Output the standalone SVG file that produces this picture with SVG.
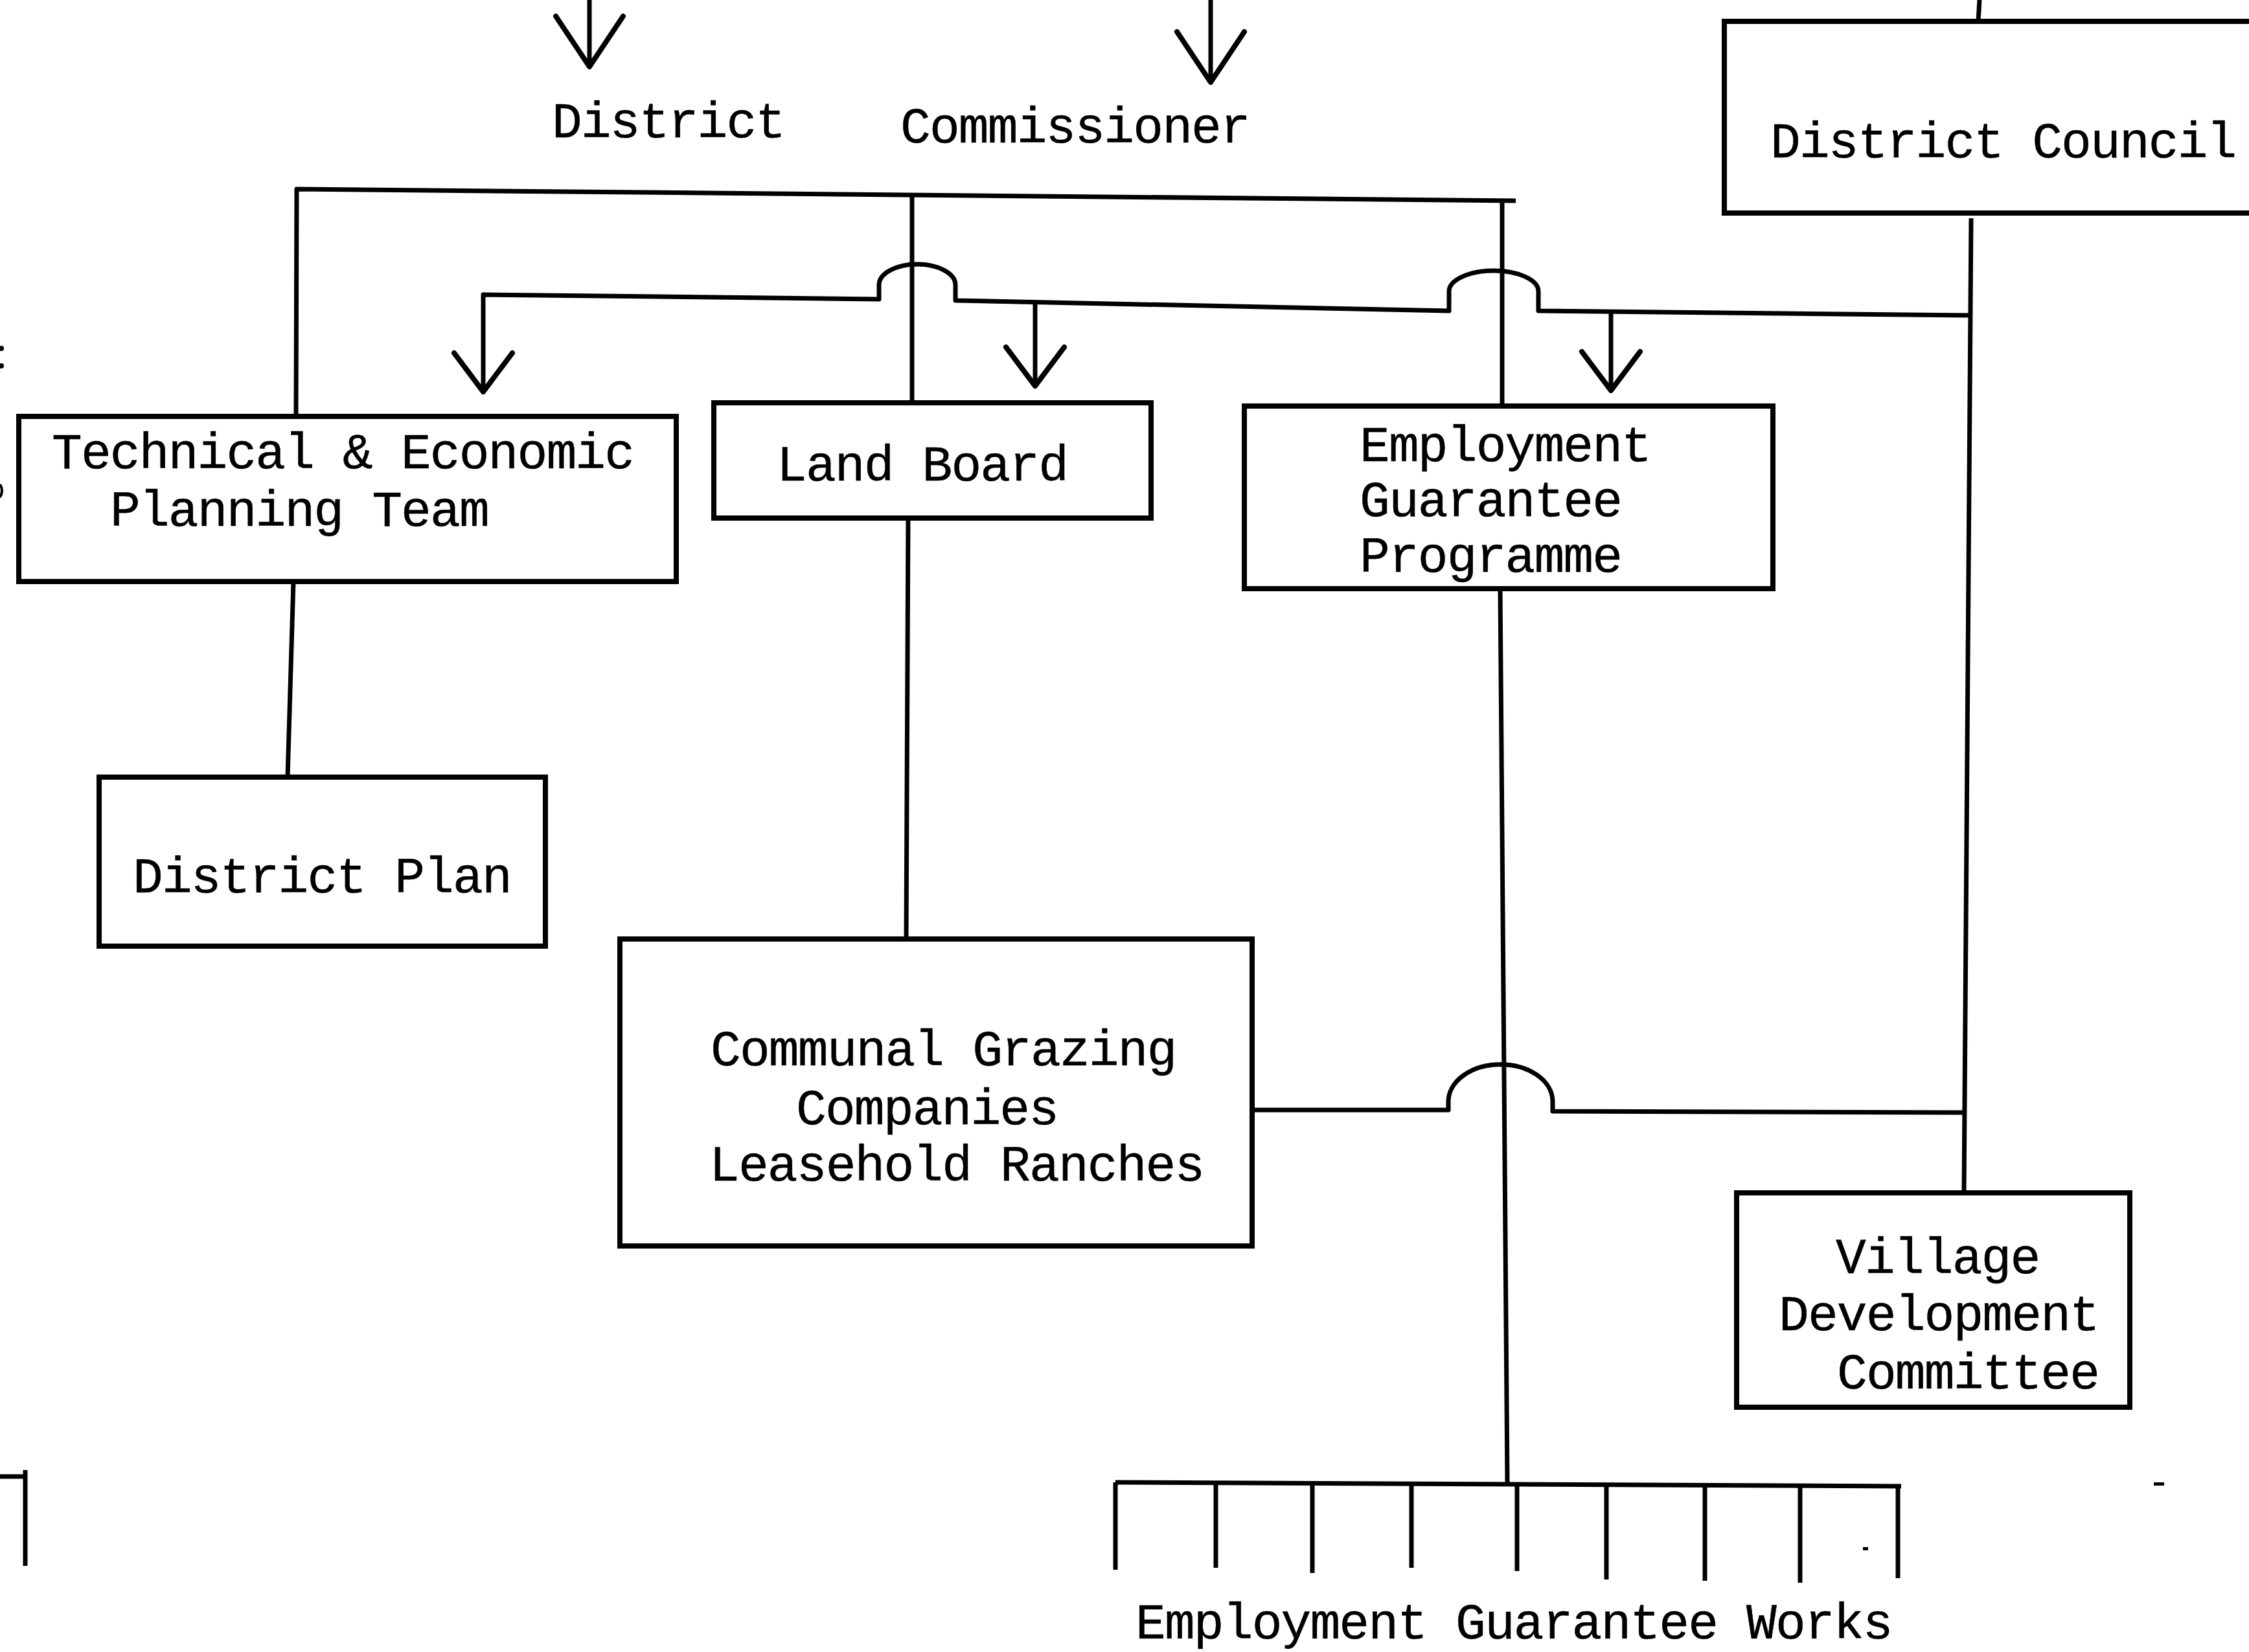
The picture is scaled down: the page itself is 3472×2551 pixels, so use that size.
<svg xmlns="http://www.w3.org/2000/svg" width="3472" height="2551" viewBox="0 0 3472 2551">
<style>
  .box { fill: none; stroke: #000; stroke-width: 8; }
  .conn { fill: none; stroke: #000; stroke-width: 7; stroke-linejoin: round; }
  .lbl { font-family: "Liberation Mono", "Courier New", monospace; font-size: 78px; letter-spacing: -1.9px; fill: #000; stroke: #000; stroke-width: 0.5px; }
  .mark { fill: #000; stroke: none; }
</style>
<defs>
  <marker id="headL" markerUnits="userSpaceOnUse" orient="auto" overflow="visible" markerWidth="1" markerHeight="1" refX="0" refY="0">
    <path d="M -78 -52 L 0 0 L -78 52" fill="none" stroke="#000" stroke-width="8" stroke-linejoin="round" stroke-linecap="round"/>
  </marker>
  <marker id="headS" markerUnits="userSpaceOnUse" orient="auto" overflow="visible" markerWidth="1" markerHeight="1" refX="0" refY="0">
    <path d="M -60 -45 L 0 0 L -60 45" fill="none" stroke="#000" stroke-width="8" stroke-linejoin="round" stroke-linecap="round"/>
  </marker>
</defs>
<rect width="3472" height="2551" fill="#fff"/>

<g id="district-commissioner">
  <text class="lbl" x="852" y="212">District</text>
  <text class="lbl" x="1390" y="220">Commissioner</text>
</g>

<g id="district-council">
  <rect class="box" x="2662" y="33" width="900" height="296"/>
  <text class="lbl" x="2733" y="243">District Council</text>
</g>

<g id="technical-economic-planning-team">
  <rect class="box" x="29" y="643" width="1015" height="255"/>
  <text class="lbl" x="80" y="723">Technical &amp; Economic</text>
  <text class="lbl" x="170" y="812">Planning Team</text>
</g>

<g id="land-board">
  <rect class="box" x="1102" y="622" width="675" height="178"/>
  <text class="lbl" x="1199" y="742">Land Board</text>
</g>

<g id="employment-guarantee-programme">
  <rect class="box" x="1921" y="627" width="816" height="282"/>
  <text class="lbl" x="2099" y="712">Employment</text>
  <text class="lbl" x="2099" y="797">Guarantee</text>
  <text class="lbl" x="2099" y="883">Programme</text>
</g>

<g id="district-plan">
  <rect class="box" x="153" y="1200" width="689" height="261"/>
  <text class="lbl" x="205" y="1378">District Plan</text>
</g>

<g id="communal-grazing">
  <rect class="box" x="957" y="1450" width="976" height="474"/>
  <text class="lbl" x="1097" y="1645">Communal Grazing</text>
  <text class="lbl" x="1229" y="1736">Companies</text>
  <text class="lbl" x="1095" y="1823">Leasehold Ranches</text>
</g>

<g id="village-development-committee">
  <rect class="box" x="2681" y="1842" width="607" height="331"/>
  <text class="lbl" x="2834" y="1966">Village</text>
  <text class="lbl" x="2746" y="2054">Development</text>
  <text class="lbl" x="2836" y="2144">Committee</text>
</g>

<g id="employment-guarantee-works">
  <path class="conn" d="M 1722 2289 L 2935 2295"/>
  <path class="conn" d="M 1722 2289 V 2424 M 1877 2290 V 2421 M 2026 2290 V 2429 M 2179 2291 V 2421 M 2342 2292 V 2426 M 2480 2293 V 2439 M 2632 2294 V 2441 M 2779 2294 V 2444 M 2930 2295 V 2437"/>
  <text class="lbl" x="1753" y="2530">Employment Guarantee Works</text>
</g>

<g id="connectors">
  <path class="conn" d="M 910 -10 V 103" marker-end="url(#headL)"/>
  <path class="conn" d="M 1869 -10 V 127" marker-end="url(#headL)"/>
  <path class="conn" d="M 3056 0 L 3054 33"/>
  <path class="conn" d="M 457 643 L 458 292 L 2340 310"/>
  <path class="conn" d="M 1408 302 V 622"/>
  <path class="conn" d="M 2319 310 V 627"/>
  <path class="conn" d="M 3042 487 L 2375 480 V 450 A 69 32 0 0 0 2237 450 V 480 L 1475 464 V 440 A 59 32 0 0 0 1357 440 V 462 L 746 455 V 605" marker-end="url(#headS)"/>
  <path class="conn" d="M 1598 467 V 596" marker-end="url(#headS)"/>
  <path class="conn" d="M 2487 482 V 603" marker-end="url(#headS)"/>
  <path class="conn" d="M 3043 337 L 3032 1842"/>
  <path class="conn" d="M 1933 1714 H 2236 V 1702 A 80 57 0 0 1 2397 1700 V 1716 L 3032 1718"/>
  <path class="conn" d="M 453 898 L 444 1200"/>
  <path class="conn" d="M 1402 800 L 1399 1450"/>
  <path class="conn" d="M 2316 909 L 2327 2289"/>
</g>

<g id="margin-marks">
  <circle class="mark" cx="2" cy="538" r="4"/>
  <circle class="mark" cx="2" cy="565" r="4"/>
  <path d="M 0 748 Q 6 757 0 768" fill="none" stroke="#000" stroke-width="4"/>
  <path class="conn" d="M 0 2280 H 40 M 39 2270 V 2418"/>
  <rect class="mark" x="2876" y="2389" width="8" height="5"/>
  <rect class="mark" x="3325" y="2289" width="16" height="5"/>
</g>
</svg>
